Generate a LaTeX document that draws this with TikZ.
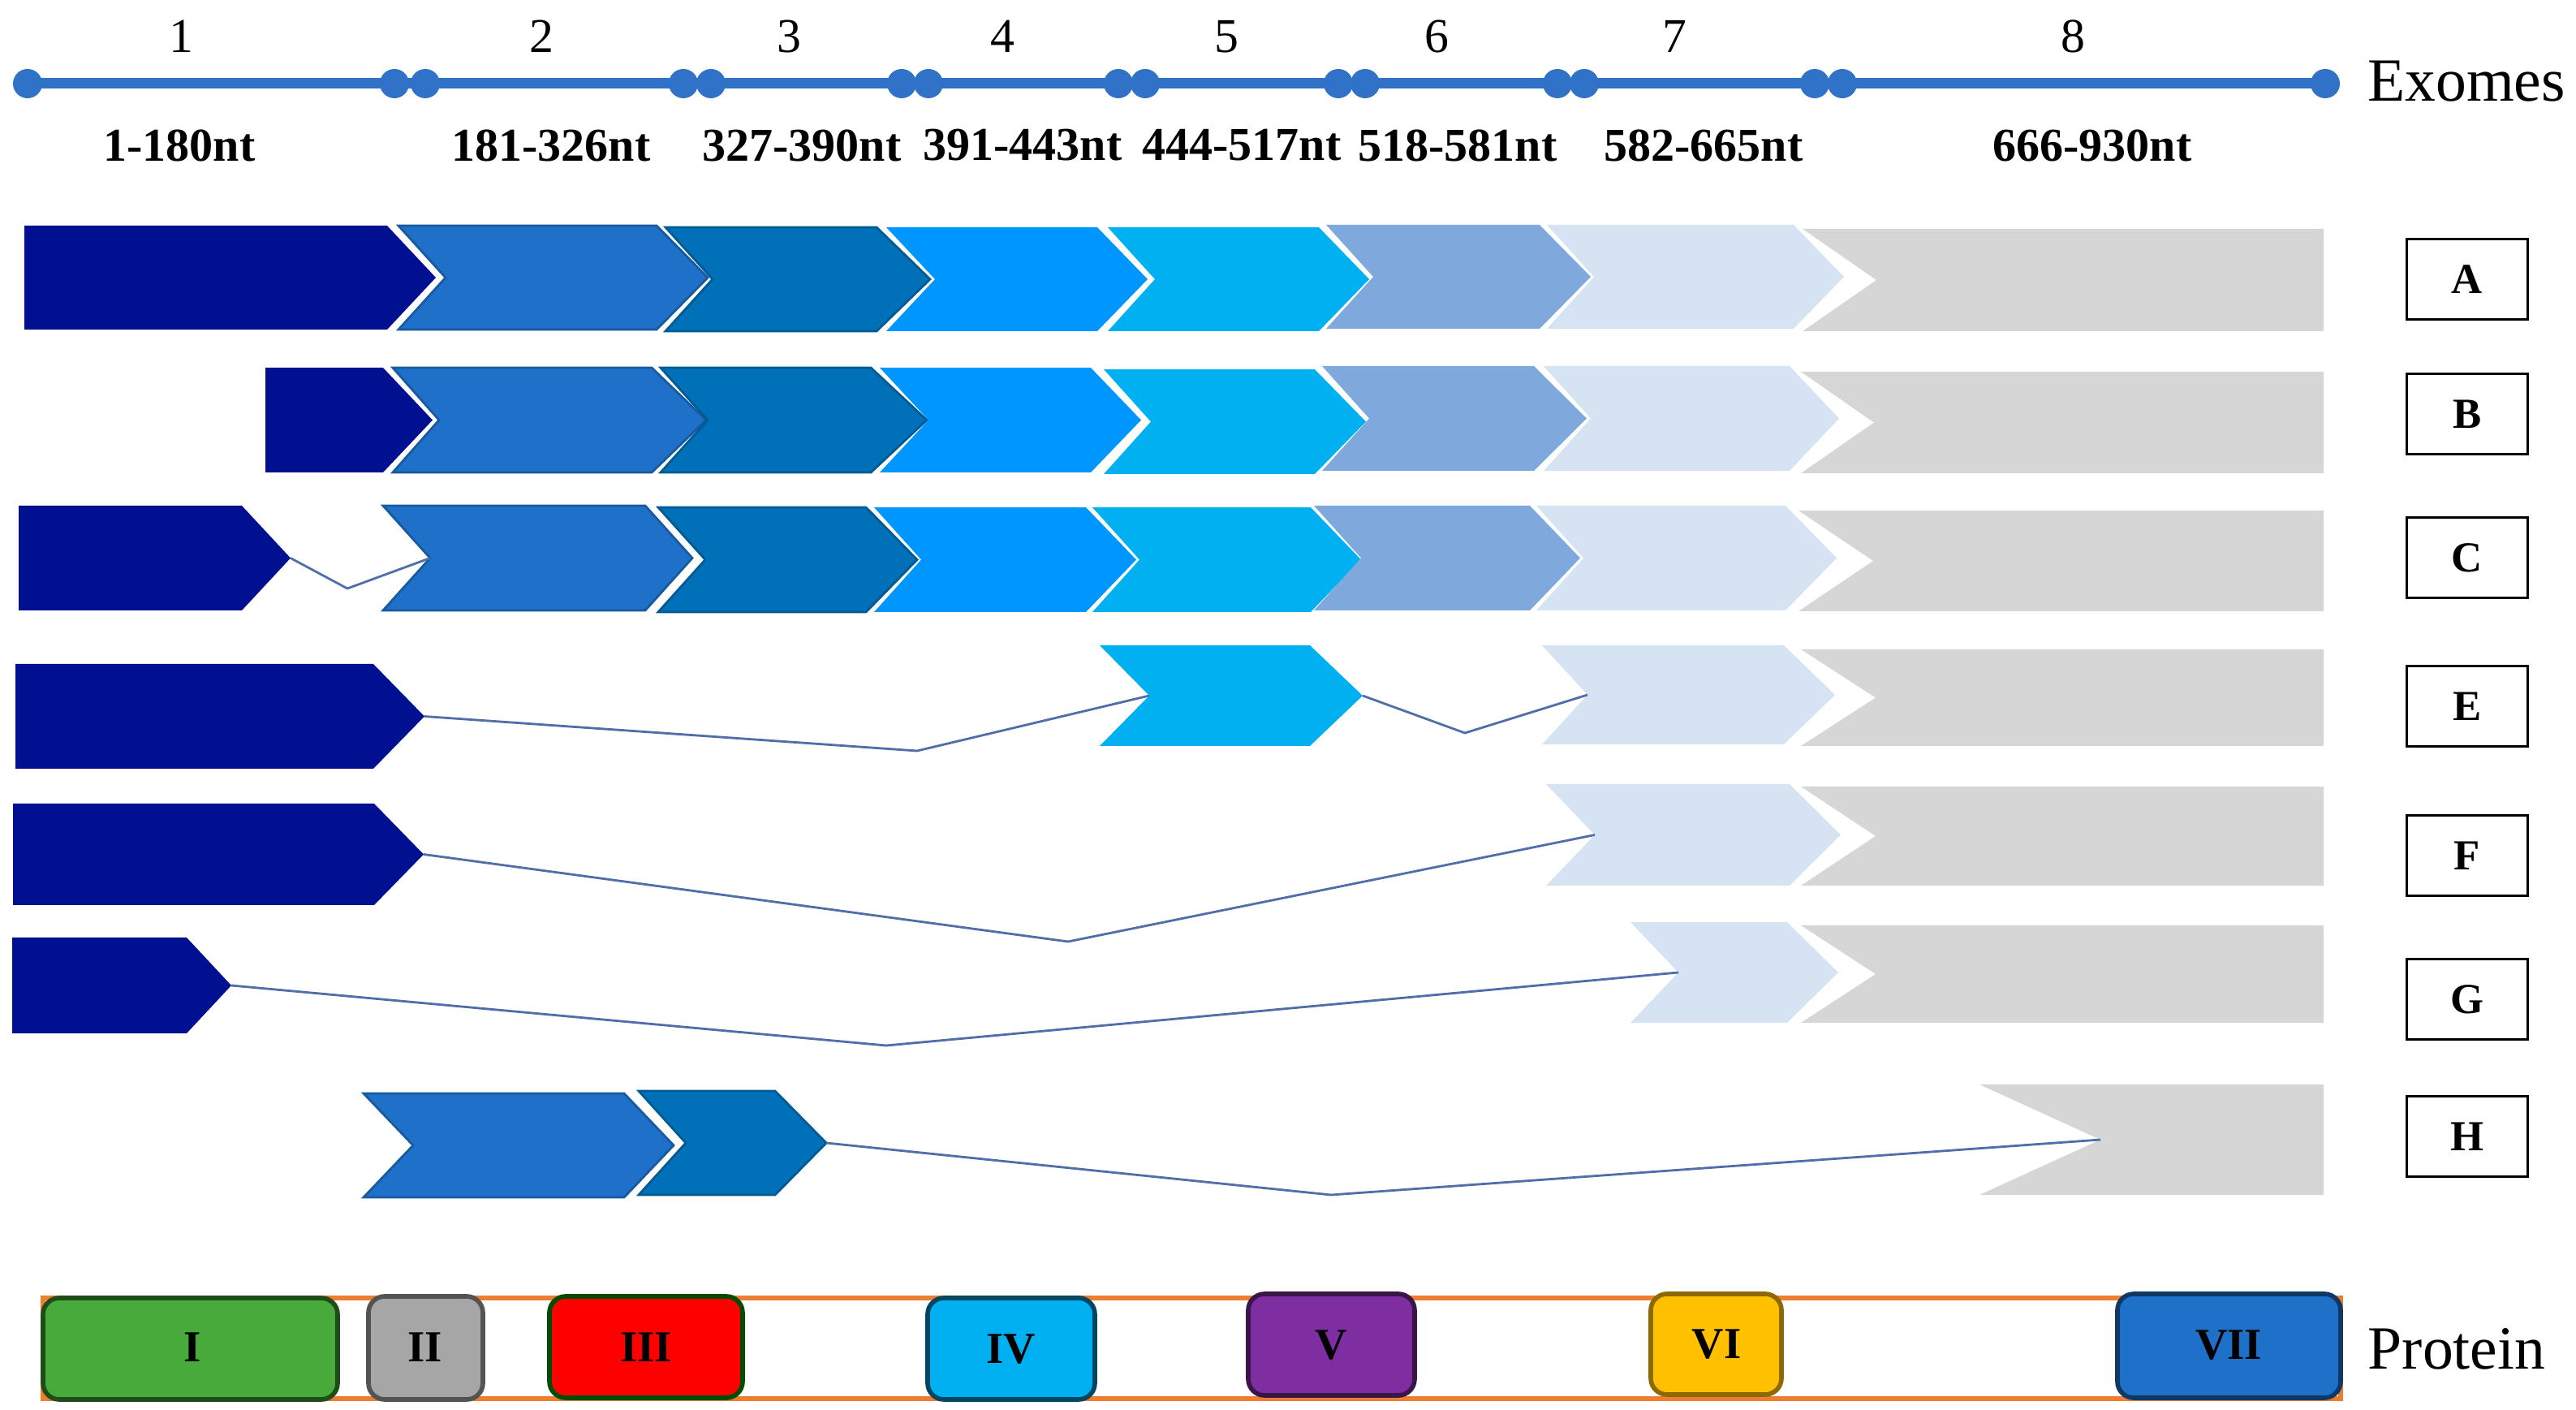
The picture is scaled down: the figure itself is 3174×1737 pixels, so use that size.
\documentclass[tikz,border=0pt]{standalone}
\usepackage{fontspec}
\setmainfont{Liberation Serif}
\definecolor{axiscol}{RGB}{48,114,200}
\definecolor{cnavyc}{RGB}{0,16,145}
\definecolor{ctwoc}{RGB}{30,112,200}
\definecolor{cthreec}{RGB}{0,112,184}
\definecolor{cfourc}{RGB}{0,150,255}
\definecolor{cfivec}{RGB}{0,176,240}
\definecolor{csixc}{RGB}{127,169,220}
\definecolor{csevenc}{RGB}{214,227,243}
\definecolor{cgrayc}{RGB}{214,214,214}
\definecolor{conncol}{RGB}{80,110,170}
\definecolor{orangec}{RGB}{237,125,49}
\definecolor{dgreen}{RGB}{72,170,58}
\definecolor{dgray}{RGB}{166,166,166}
\definecolor{dred}{RGB}{255,0,0}
\definecolor{dcyan}{RGB}{0,176,240}
\definecolor{dpurple}{RGB}{126,46,160}
\definecolor{dyellow}{RGB}{255,192,0}
\definecolor{dblue}{RGB}{30,112,200}
\newcommand{\chevshape}[8]{%
  \path[#1] (#2,#4) -- (#3,#4) -- ({#3+#7},{(#4+#5)/2}) -- (#3,#5) -- (#2,#5) -- ({#2+#6},{(#4+#5)/2}) -- cycle;
  \coordinate (#8in) at ({#2+#6},{(#4+#5)/2});
  \coordinate (#8out) at ({#3+#7},{(#4+#5)/2});
}
\begin{document}
\begin{tikzpicture}[x=0.01cm,y=-0.01cm,
  numlbl/.style={font=\fontsize{17}{17}\selectfont, inner sep=0pt},
  ntlbl/.style={font=\bfseries\fontsize{16.5}{16.5}\selectfont, inner sep=0pt},
  biglbl/.style={font=\fontsize{21.5}{21.5}\selectfont, inner sep=0pt},
  rowbox/.style={draw=black, line width=0.8pt, minimum width=1.49cm, minimum height=0.99cm, font=\bfseries\fontsize{15}{15}\selectfont, inner sep=0pt},
  dom/.style={rounded corners=0.2cm, line width=1.6pt},
  domlbl/.style={font=\bfseries\fontsize{15.5}{15.5}\selectfont, inner sep=0pt},
  dot/.style={circle, fill=axiscol, minimum size=0.36cm, inner sep=0pt},
  axisline/.style={draw=axiscol, line width=3.7pt},
  conn/.style={draw=conncol, line width=0.8pt},
  cnavy/.style={fill=cnavyc},
  ctwo/.style={fill=ctwoc, draw=ctwoc!80!black, line width=0.8pt},
  cthree/.style={fill=cthreec, draw=cthreec!80!black, line width=0.8pt},
  cfour/.style={fill=cfourc},
  cfive/.style={fill=cfivec},
  csix/.style={fill=csixc},
  cseven/.style={fill=csevenc},
  cgray/.style={fill=cgrayc}
]
\useasboundingbox (0,0) rectangle (3174,1737);

% ---- exon axis ----
\draw[axisline] (34,103) -- (2864,103);
\foreach \x [count=\i] in {34,486,524,842,876,1111,1144,1378,1411,1649,1682,1919,1952,2236,2270,2865}
  \node[dot] (d\i) at (\x,103) {};

\node[numlbl] (n1) at (223,45) {1};
\node[numlbl] (n2) at (667,45) {2};
\node[numlbl] (n3) at (972,45) {3};
\node[numlbl] (n4) at (1235,45) {4};
\node[numlbl] (n5) at (1511,45) {5};
\node[numlbl] (n6) at (1770,45) {6};
\node[numlbl] (n7) at (2063,45) {7};
\node[numlbl] (n8) at (2554,45) {8};

\node[ntlbl] (r1) at (221,179) {1-180nt};
\node[ntlbl] (r2) at (679,179) {181-326nt};
\node[ntlbl] (r3) at (988,179) {327-390nt};
\node[ntlbl] (r4) at (1260,179) {391-443nt};
\node[ntlbl] (r5) at (1530,179) {444-517nt};
\node[ntlbl] (r6) at (1796,179) {518-581nt};
\node[ntlbl] (r7) at (2099,179) {582-665nt};
\node[ntlbl] (r8) at (2578,179) {666-930nt};

\node[biglbl] (exomes) at (3039,100) {Exomes};

% ---- Row A ----
\chevshape{cnavy}{30}{477}{278}{406}{0}{60}{A1}
\chevshape{ctwo}{491}{809}{278}{406}{58}{63}{A2}
\chevshape{cthree}{820}{1080}{280}{408}{58}{66}{A3}
\chevshape{cfour}{1092}{1352}{280}{408}{60}{62}{A4}
\chevshape{cfive}{1365}{1625}{280}{408}{58}{62}{A5}
\chevshape{csix}{1634}{1897}{277}{405}{58}{63}{A6}
\chevshape{cseven}{1906}{2210}{277}{405}{58}{62}{A7}
\chevshape{cgray}{2221}{2863}{282}{408}{91}{0}{A8}

% ---- Row B ----
\chevshape{cnavy}{327}{472}{453}{582}{0}{61}{B1}
\chevshape{ctwo}{484}{803}{453}{582}{57}{67}{B2}
\chevshape{cthree}{814}{1073}{453}{582}{58}{69}{B3}
\chevshape{cfour}{1084}{1344}{453}{582}{60}{62}{B4}
\chevshape{cfive}{1360}{1620}{455}{584}{58}{63}{B5}
\chevshape{csix}{1629}{1890}{451}{580}{58}{65}{B6}
\chevshape{cseven}{1902}{2205}{451}{580}{58}{61}{B7}
\chevshape{cgray}{2219}{2863}{458}{583}{90}{0}{B8}

% ---- Row C ----
\chevshape{cnavy}{23}{298}{623}{752}{0}{60}{C1}
\chevshape{ctwo}{472}{795}{623}{752}{58}{58}{C2}
\chevshape{cthree}{811}{1067}{625}{754}{58}{63}{C3}
\chevshape{cfour}{1077}{1338}{625}{754}{58}{62}{C4}
\chevshape{cfive}{1346}{1615}{625}{754}{58}{62}{C5}
\chevshape{csix}{1619}{1885}{623}{752}{58}{62}{C6}
\chevshape{cseven}{1893}{2200}{623}{752}{58}{63}{C7}
\chevshape{cgray}{2216}{2863}{629}{753}{92}{0}{C8}
\coordinate (Cv) at (428,725);
\draw[conn] (C1out) -- (Cv) -- (C2in);

% ---- Row E ----
\chevshape{cnavy}{19}{460}{818}{947}{0}{63}{E1}
\chevshape{cfive}{1355}{1614}{795}{919}{61}{65}{E5}
\chevshape{cseven}{1900}{2198}{795}{917}{56}{63}{E7}
\chevshape{cgray}{2219}{2863}{800}{919}{92}{0}{E8}
\coordinate (Ev1) at (1130,925);
\coordinate (Ev2) at (1805,903);
\draw[conn] (E1out) -- (Ev1) -- (E5in);
\draw[conn] (E5out) -- (Ev2) -- (E7in);

% ---- Row F ----
\chevshape{cnavy}{16}{461}{990}{1115}{0}{61}{F1}
\chevshape{cseven}{1905}{2205}{966}{1091}{60}{63}{F7}
\chevshape{cgray}{2219}{2863}{969}{1091}{92}{0}{F8}
\coordinate (Fv) at (1316,1160);
\draw[conn] (F1out) -- (Fv) -- (F7in);

% ---- Row G ----
\chevshape{cnavy}{15}{230}{1155}{1273}{0}{55}{G1}
\chevshape{cseven}{2009}{2202}{1136}{1260}{59}{63}{G7}
\chevshape{cgray}{2219}{2863}{1140}{1260}{92}{0}{G8}
\coordinate (Gv) at (1092,1288);
\draw[conn] (G1out) -- (Gv) -- (G7in);

% ---- Row H ----
\chevshape{ctwo}{448}{769}{1347}{1475}{61}{61}{H2}
\chevshape{cthree}{787}{955}{1344}{1472}{58}{63}{H3}
\chevshape{cgray}{2439}{2863}{1336}{1472}{149}{0}{H8}
\coordinate (Hv) at (1640,1472);
\draw[conn] (H3out) -- (Hv) -- (H8in);

% ---- row labels ----
\node[rowbox] (lA) at (3040,344) {A};
\node[rowbox] (lB) at (3040,510) {B};
\node[rowbox] (lC) at (3040,687) {C};
\node[rowbox] (lE) at (3040,870) {E};
\node[rowbox] (lF) at (3040,1054) {F};
\node[rowbox] (lG) at (3040,1231) {G};
\node[rowbox] (lH) at (3040,1400) {H};

% ---- protein ----
\draw[draw=orangec, line width=1.8pt] (53,1599) rectangle (2884,1723);
\draw[dom, fill=dgreen, draw=dgreen!45!black] (53,1599) rectangle (416,1724);
\draw[dom, fill=dgray, draw=dgray!50!black] (454,1597) rectangle (595,1724);
\draw[dom, fill=dred, draw=black!70!green] (677,1597) rectangle (915,1722);
\draw[dom, fill=dcyan, draw=dcyan!40!black] (1143,1599) rectangle (1349,1724);
\draw[dom, fill=dpurple, draw=dpurple!45!black] (1538,1594) rectangle (1743,1719);
\draw[dom, fill=dyellow, draw=dyellow!55!black] (2034,1594) rectangle (2195,1718);
\draw[dom, fill=dblue, draw=dblue!50!black] (2609,1594) rectangle (2884,1722);
\node[domlbl] (p1) at (237,1660) {I};
\node[domlbl] (p2) at (524,1660) {II};
\node[domlbl] (p3) at (796,1660) {III};
\node[domlbl] (p4) at (1246,1662) {IV};
\node[domlbl] (p5) at (1640,1657) {V};
\node[domlbl] (p6) at (2115,1656) {VI};
\node[domlbl] (p7) at (2746,1657) {VII};
\node[biglbl] (protein) at (3027,1662) {Protein};
\end{tikzpicture}
\end{document}
